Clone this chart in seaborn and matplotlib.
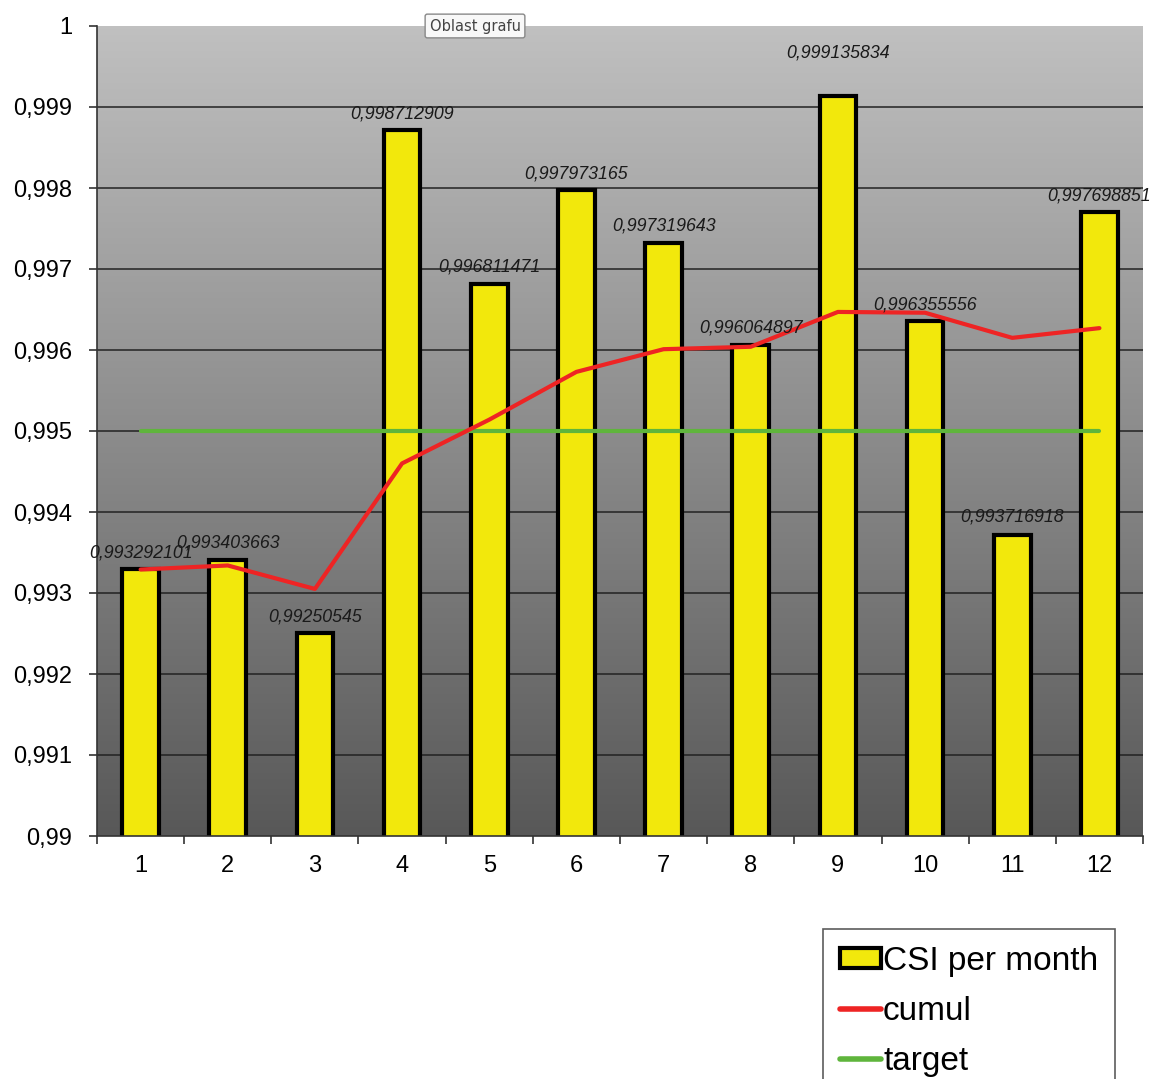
import numpy as np
import pandas as pd
import matplotlib
matplotlib.use("Agg")
import matplotlib.pyplot as plt
import seaborn as sns
from matplotlib.patches import Patch
from matplotlib.lines import Line2D

months = ["1", "2", "3", "4", "5", "6", "7", "8", "9", "10", "11", "12"]
csi_per_month = [0.993292101, 0.993403663, 0.99250545, 0.998712909, 0.996811471,
                 0.997973165, 0.997319643, 0.996064897, 0.999135834, 0.996355556,
                 0.993716918, 0.997698851]
cumul = [0.99329, 0.99334, 0.99305, 0.99460, 0.99514, 0.99573,
         0.99601, 0.99604, 0.99647, 0.99646, 0.99615, 0.99627]
target = [0.995] * 12
bar_labels = ["0,993292101", "0,993403663", "0,99250545", "0,998712909", "0,996811471",
              "0,997973165", "0,997319643", "0,996064897", "0,999135834", "0,996355556",
              "0,993716918", "0,997698851"]
y_ticks = [0.990, 0.991, 0.992, 0.993, 0.994, 0.995, 0.996, 0.997, 0.998, 0.999, 1.000]
y_tick_labels = ["0,99", "0,991", "0,992", "0,993", "0,994", "0,995",
                 "0,996", "0,997", "0,998", "0,999", "1"]

sns.set_style("white")
plt.rcParams["font.family"] = ["Liberation Sans", "DejaVu Sans"]
plt.rcParams["text.color"] = "black"
plt.rcParams["xtick.labelcolor"] = "black"
plt.rcParams["ytick.labelcolor"] = "black"

W, H = 1151, 1079
fig = plt.figure(figsize=(W / 100, H / 100), dpi=100)
ax = fig.add_axes([97 / W, 1 - 836 / H, (1143 - 97) / W, (836 - 26) / H])

# gradient background (light at top, dark at bottom)
grad = np.linspace(0, 1, 256).reshape(-1, 1)
cmap = matplotlib.colors.LinearSegmentedColormap.from_list("g", ["#c0c0c0", "#585858"])
ax.imshow(grad, aspect="auto", cmap=cmap, extent=[-0.5, 11.5, 0.99, 1.0],
          origin="upper", zorder=0)

for yt in y_ticks[1:-1]:
    ax.axhline(yt, color="#222222", lw=1.1, zorder=1)

df = pd.DataFrame({"month": months, "csi": csi_per_month})
sns.barplot(data=df, x="month", y="csi", color="#f2e80c", saturation=1,
            edgecolor="black", linewidth=3.0, width=0.42, ax=ax, zorder=2)

xs = np.arange(len(months))
ax.plot(xs, target, color="#5fb53c", lw=3, zorder=3)
ax.plot(xs, cumul, color="#ee2424", lw=3, zorder=4)

offsets = [16, 17, 16, 16, 17, 16, 17, 17, 43, 16, 18, 16]
for i, (v, lab) in enumerate(zip(csi_per_month, bar_labels)):
    ax.annotate(lab, (i, v), xytext=(0, offsets[i] * 0.72), textcoords="offset points",
                ha="center", va="center", fontsize=12.8, style="italic",
                color="#1a1a1a", zorder=5, annotation_clip=False)

ax.set_xlim(-0.5, 11.5)
ax.set_ylim(0.99, 1.0)
ax.set_yticks(y_ticks)
ax.set_yticklabels(y_tick_labels)
ax.set_xticks(xs)
ax.set_xticklabels(months)
ax.set_xticks(np.arange(-0.5, 12, 1), minor=True)
ax.tick_params(axis="x", which="major", length=0, pad=14, labelsize=17, labelcolor="black")
ax.tick_params(axis="x", which="minor", length=6, width=1.2, color="#333333", direction="out", bottom=True)
ax.tick_params(axis="y", length=6, width=1.2, color="#333333", direction="out", left=True, pad=12,
               labelsize=17, labelcolor="black")
ax.set_xlabel("")
ax.set_ylabel("")
for s in ["top", "right"]:
    ax.spines[s].set_visible(False)
for s in ["left", "bottom"]:
    ax.spines[s].set_color("#333333")
    ax.spines[s].set_linewidth(1.2)

# tooltip
fig.text(475 / W, 1 - 26 / H, "Oblast grafu", ha="center", va="center", fontsize=10.5,
         color="#444444", family=["DejaVu Sans"],
         bbox=dict(boxstyle="round,pad=0.3,rounding_size=0.15", fc="#f8f8f8", ec="#888888", lw=1))

handles = [Patch(facecolor="#f2e80c", edgecolor="black", linewidth=3),
           Line2D([0], [0], color="#ee2424", lw=4),
           Line2D([0], [0], color="#5fb53c", lw=4)]
leg = fig.legend(handles, ["CSI per month", "cumul", "target"], loc="upper left",
                 bbox_to_anchor=(823 / W, 1 - 929 / H), fontsize=24, frameon=True,
                 fancybox=False, edgecolor="#333333", handlelength=1.25, handleheight=0.55,
                 handletextpad=0.05, labelspacing=0.58, borderpad=0.5, borderaxespad=0,
                 labelcolor="black")
leg.get_frame().set_linewidth(1.2)

fig.savefig("out.png", dpi=100)
